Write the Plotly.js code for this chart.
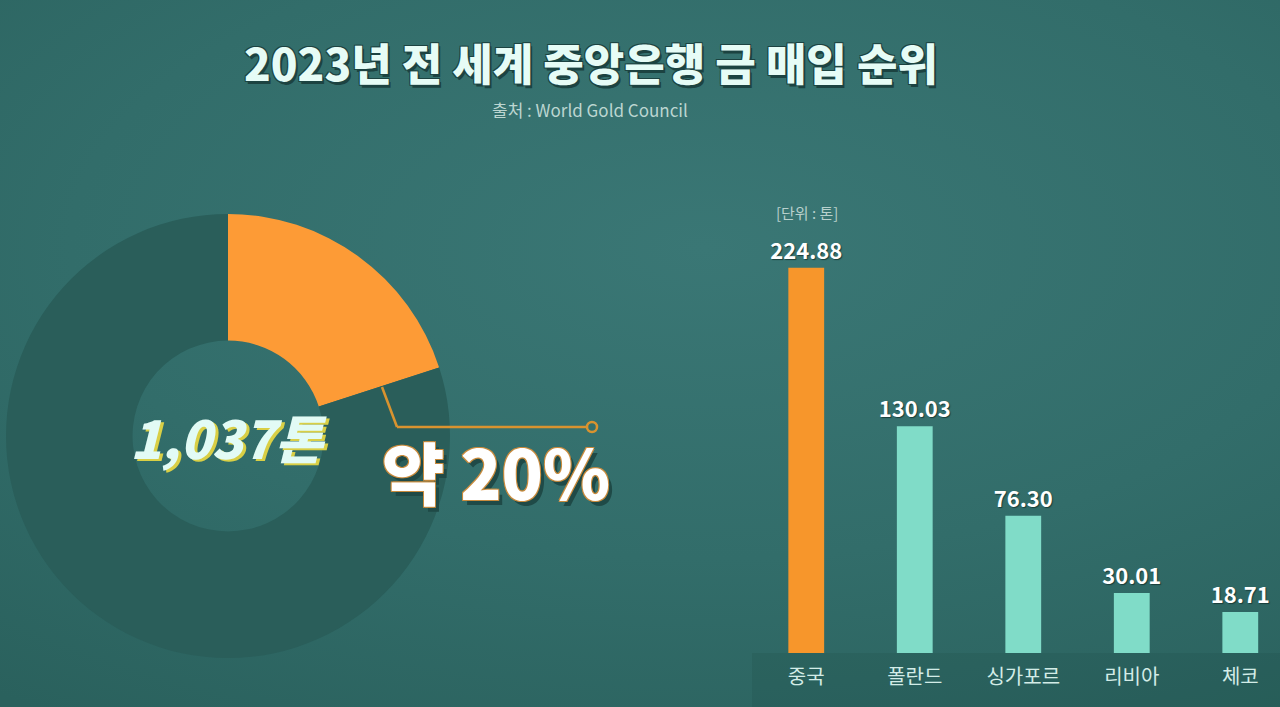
<!DOCTYPE html>
<html>
<head>
<meta charset="utf-8">
<script src="https://cdn.plot.ly/plotly-3.0.1.min.js"></script>
<style>
  html, body { margin: 0; padding: 0; }
  body {
    width: 1280px; height: 707px; overflow: hidden;
    background: radial-gradient(ellipse 90% 80% at 55% 35%, #3a7775 0%, #326d6a 55%, #2a615d 100%);
  }
  #chart { width: 1280px; height: 707px; }
</style>
</head>
<body>
<div id="chart"></div>
<script>
// ---- data ----
const countries = ['중국', '폴란드', '싱가포르', '리비아', '체코'];
const purchases = [224.88, 130.03, 76.30, 30.01, 18.71];
const shareLabels = ['중국', '기타'];
const shareValues = [20, 80];
const totalLabel = '1,037톤';
const shareText = '약 20%';
const titleText = '2023년 전 세계 중앙은행 금 매입 순위';
const sourceText = '출처 : World Gold Council';
const unitText = '[단위 : 톤]';

// ---- styles ----
const W = 1280, H = 707;
const px = x => x / W;
const py = y => (H - y) / H;
const KR = '"Noto Sans CJK KR", "Noto Sans", sans-serif';
const barColors = ['#f7962b', '#80dcc8', '#80dcc8', '#80dcc8', '#80dcc8'];
const pieColors = ['#fd9b36', '#2a5e5a'];
const yMin = -5.87;   // bars start a little below zero at the axis line

const cx = 228, cy = 436, r = 222;

const donut = {
  type: 'pie',
  labels: shareLabels,
  values: shareValues,
  hole: 0.43,
  sort: false,
  direction: 'clockwise',
  rotation: 0,
  textinfo: 'none',
  hoverinfo: 'none',
  showlegend: false,
  marker: { colors: pieColors, line: { width: 0 } },
  domain: { x: [px(cx - r), px(cx + r)], y: [py(cy + r), py(cy - r)] }
};

const bars = {
  type: 'bar',
  x: countries,
  y: purchases.map(v => v - yMin),
  base: yMin,
  width: 0.33,
  marker: { color: barColors, line: { width: 0 } },
  text: purchases.map(v => v.toFixed(2)),
  textposition: 'outside',
  constraintext: 'none',
  cliponaxis: false,
  textfont: { family: KR, size: 22, color: '#ffffff', weight: 700,
              shadow: '1px 1px 1px rgba(20,50,48,0.8)' },
  hoverinfo: 'none',
  showlegend: false
};

const layout = {
  width: W, height: H,
  margin: { l: 0, r: 0, t: 0, b: 0 },
  paper_bgcolor: 'rgba(0,0,0,0)',
  plot_bgcolor: 'rgba(0,0,0,0)',
  showlegend: false,
  xaxis: {
    domain: [px(752), 1],
    range: [-0.5, 4.366],
    showgrid: false, zeroline: false, showline: false, ticks: '',
    ticklabelstandoff: 10,
    tickfont: { family: KR, size: 20, color: '#d3ece7' },
    fixedrange: true
  },
  yaxis: {
    domain: [py(653), py(200)],
    range: [yMin, 265.5],
    visible: false, fixedrange: true
  },
  shapes: [
    { type: 'rect', xref: 'paper', yref: 'paper', x0: px(752), x1: 1, y0: 0, y1: py(653),
      fillcolor: 'rgba(18,55,52,0.12)', line: { width: 0 }, layer: 'below' },
    { type: 'line', xref: 'paper', yref: 'paper', x0: px(382), y0: py(387), x1: px(397), y1: py(427),
      line: { color: '#d9932f', width: 2.5 } },
    { type: 'line', xref: 'paper', yref: 'paper', x0: px(397), y0: py(427), x1: px(588), y1: py(427),
      line: { color: '#d9932f', width: 2.5 } },
    { type: 'circle', xref: 'paper', yref: 'paper', x0: px(587), x1: px(597), y0: py(432), y1: py(422),
      line: { color: '#d9932f', width: 2.5 }, fillcolor: '#33706d' }
  ],
  annotations: [
    { text: titleText, xref: 'paper', yref: 'paper', x: px(591), y: py(62), showarrow: false,
      xanchor: 'center', yanchor: 'middle',
      font: { family: KR, size: 44, weight: 900, color: '#e6fcf6',
              shadow: '2px 3px 0 #1c4341, -1px -1px 0 #1c4341, 1px -1px 0 #1c4341, -1px 1px 0 #1c4341' } },
    { text: sourceText, xref: 'paper', yref: 'paper', x: px(590), y: py(109), showarrow: false,
      xanchor: 'center', yanchor: 'middle',
      font: { family: KR, size: 17, color: '#bcd6d1' } },
    { text: unitText, xref: 'paper', yref: 'paper', x: px(807), y: py(213), showarrow: false,
      xanchor: 'center', yanchor: 'middle',
      font: { family: KR, size: 15, color: '#b9d1cd' } },
    { text: totalLabel, xref: 'paper', yref: 'paper', x: px(cx), y: py(cy), showarrow: false,
      xanchor: 'center', yanchor: 'middle',
      font: { family: KR, size: 52, weight: 900, style: 'italic', color: '#e2fbf5',
              shadow: '3px 2px 0 #d9cf45' } },
    { text: shareText, xref: 'paper', yref: 'paper', x: px(496), y: py(470), showarrow: false,
      xanchor: 'center', yanchor: 'middle',
      font: { family: KR, size: 68, weight: 900, color: '#ffffff',
              shadow: '1px 1px 0 #c98b3d, -1px -1px 0 #c98b3d, 1px -1px 0 #c98b3d, -1px 1px 0 #c98b3d, 4px 5px 0 #1f4a47' } }
  ]
};

Plotly.newPlot('chart', [donut, bars], layout, { staticPlot: true, displayModeBar: false });
</script>
</body>
</html>
